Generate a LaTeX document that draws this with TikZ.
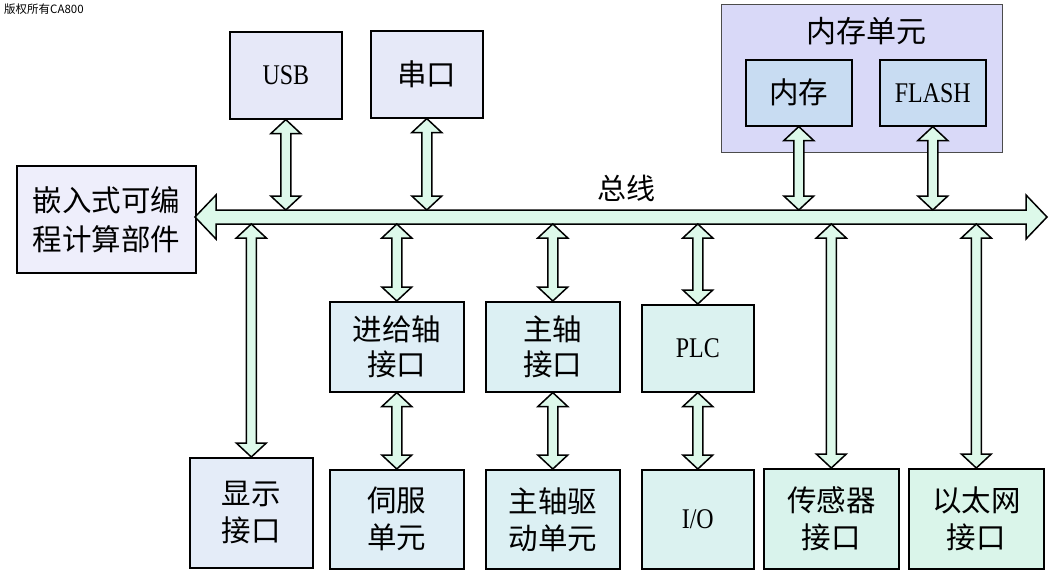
\documentclass[tikz,border=0pt]{standalone}
\usepackage{fontspec}
\setmainfont{Liberation Serif}[FakeStretch=0.84]
\newfontfamily\cjk{Noto Sans CJK SC}
\usetikzlibrary{calc}
\definecolor{cEmb}{HTML}{EEEEFB}
\definecolor{cUSB}{HTML}{E6E8F8}
\definecolor{cSer}{HTML}{E6E9F8}
\definecolor{cDisp}{HTML}{E4ECF8}
\definecolor{cFeed}{HTML}{DFEEF6}
\definecolor{cSpin}{HTML}{DCF0F3}
\definecolor{cPLC}{HTML}{DBF2F0}
\definecolor{cSens}{HTML}{D9F3EC}
\definecolor{cEth}{HTML}{DAF5EA}
\definecolor{memOuter}{HTML}{D9D9F8}
\definecolor{memIn}{HTML}{C8DCF2}
\definecolor{busfill}{HTML}{DDF9EA}
\newcommand\varrow[2]{%
  \draw[arr] let \p1=(#1), \p2=(#2) in
    (\x1,\y1) -- (\x1+15pt,\y1-14pt) -- (\x1+5pt,\y1-14pt) -- (\x1+5pt,\y2+14pt)
    -- (\x1+15pt,\y2+14pt) -- (\x1,\y2) -- (\x1-15pt,\y2+14pt) -- (\x1-5pt,\y2+14pt)
    -- (\x1-5pt,\y1-14pt) -- (\x1-15pt,\y1-14pt) -- cycle;}
\begin{document}
\begin{tikzpicture}[x=1pt,y=-1pt,
  box/.style={draw=black, line width=1.6pt, anchor=north west, inner sep=0pt,
    align=center, font=\fontsize{29.5}{37}\selectfont\cjk},
  lat/.style={font=\fontsize{28.5}{34}\selectfont\rmfamily},
  arr/.style={draw=black, line width=1.5pt, fill=busfill, line join=miter}]
\useasboundingbox (0,0) rectangle (1061,576);
\fill[white] (0,0) rectangle (1061,576);

\node[anchor=north west, inner sep=0pt, font=\fontsize{11.5}{12}\selectfont\cjk] (wm) at (4,4) {版权所有CA800};

% top boxes
\node[box, lat, fill=cUSB, minimum width=112pt, minimum height=87pt] (usb) at (229,31) {USB};
\node[box, fill=cSer, minimum width=112pt, minimum height=87pt] (ser) at (370,30) {串口};

% memory unit
\node[box, fill=memOuter, draw=black!70, line width=1pt, minimum width=281pt, minimum height=148pt] (memu) at (721,4) {};
\node[font=\fontsize{30}{34}\selectfont\cjk, inner sep=0pt] (memt) at (866,31) {内存单元};
\node[box, fill=memIn, minimum width=106pt, minimum height=66pt] (mem) at (745,59) {内存};
\node[box, lat, fill=memIn, minimum width=106pt, minimum height=66pt] (flash) at (879,59) {FLASH};

% embedded
\node[box, fill=cEmb, minimum width=179pt, minimum height=107pt, font=\fontsize{29.5}{39}\selectfont\cjk] (emb) at (16,165) {嵌入式可编\\程计算部件};

% middle row
\node[box, fill=cFeed, minimum width=134pt, minimum height=90pt, font=\fontsize{29.5}{35}\selectfont\cjk] (feed) at (329,301) {进给轴\\接口};
\node[box, fill=cSpin, minimum width=134pt, minimum height=90pt, font=\fontsize{29.5}{35}\selectfont\cjk] (spin) at (485,301) {主轴\\接口};
\node[box, lat, fill=cPLC, minimum width=112pt, minimum height=87pt] (plc) at (641,304) {PLC};

% bottom row
\node[box, fill=cDisp, minimum width=123pt, minimum height=110pt] (disp) at (189,457) {显示\\接口};
\node[box, fill=cFeed, minimum width=134pt, minimum height=99pt] (servo) at (329,469) {伺服\\单元};
\node[box, fill=cSpin, minimum width=134pt, minimum height=99pt] (sdrv) at (485,469) {主轴驱\\动单元};
\node[box, lat, fill=cPLC, minimum width=112pt, minimum height=99pt] (io) at (641,469) {I/O};
\node[box, fill=cSens, minimum width=135pt, minimum height=100pt] (sens) at (763,468) {传感器\\接口};
\node[box, fill=cEth, minimum width=135pt, minimum height=100pt] (eth) at (908,468) {以太网\\接口};

% bus
\coordinate (busL) at (195,217);
\coordinate (busR) at (1047,217);
\coordinate (busT) at (0,210);
\coordinate (busB) at (0,224);
\draw[arr] let \p1=(busL), \p2=(busR) in
  (\x1,\y1) -- (\x1+21pt,\y1+22pt) -- (\x1+21pt,\y1+7pt) -- (\x2-21pt,\y1+7pt)
  -- (\x2-21pt,\y1+22pt) -- (\x2,\y1) -- (\x2-21pt,\y1-22pt) -- (\x2-21pt,\y1-7pt)
  -- (\x1+21pt,\y1-7pt) -- (\x1+21pt,\y1-22pt) -- cycle;
\node[font=\fontsize{29}{34}\selectfont\cjk, inner sep=0pt] (buslbl) at (626,188) {总线};

% arrows to bus from above
\varrow{usb.south}{usb.south |- busT}
\varrow{ser.south}{ser.south |- busT}
\varrow{mem.south}{mem.south |- busT}
\varrow{flash.south}{flash.south |- busT}

% arrows from bus downward
\varrow{disp.north |- busB}{disp.north}
\varrow{feed.north |- busB}{feed.north}
\varrow{spin.north |- busB}{spin.north}
\varrow{plc.north |- busB}{plc.north}
\varrow{sens.north |- busB}{sens.north}
\varrow{eth.north |- busB}{eth.north}

% middle links
\varrow{feed.south}{servo.north}
\varrow{spin.south}{sdrv.north}
\varrow{plc.south}{io.north}
\end{tikzpicture}
\end{document}
